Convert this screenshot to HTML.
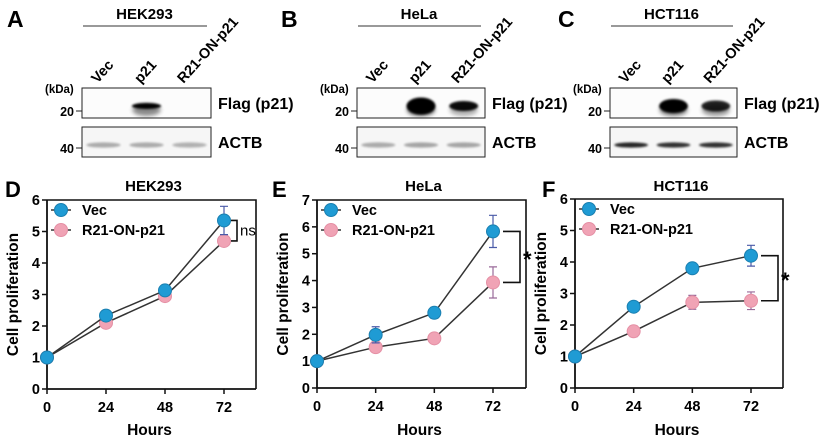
<!DOCTYPE html>
<html><head><meta charset="utf-8"><style>
html,body{margin:0;padding:0;background:#fff}
svg{display:block;font-family:"Liberation Sans",Arial,sans-serif;font-weight:bold}
</style></head><body>
<svg id="fig" width="823" height="438" viewBox="0 0 823 438">
<defs>
<filter id="b1" x="-50%" y="-100%" width="200%" height="300%"><feGaussianBlur stdDeviation="2"/></filter>
<filter id="b2" x="-50%" y="-100%" width="200%" height="300%"><feGaussianBlur stdDeviation="1.1"/></filter>
</defs>
<g id="blots"></g>
<g id="charts"></g>
</svg>
<script>
const NS="http://www.w3.org/2000/svg";
function mk(tag,attrs,parent,text){const e=document.createElementNS(NS,tag);for(const k in attrs)e.setAttribute(k,attrs[k]);if(text!==undefined)e.textContent=text;parent.appendChild(e);return e;}

/* ---------- Western blots ---------- */
const blotPanels=[
 {letter:"A",lx:7,cell:"HEK293",x0:82,x1:211,flag:[0,1.0,0],flagH:[0,3,0],smear:[0,0.45,0],actb:[0.3,0.3,0.28]},
 {letter:"B",lx:281,cell:"HeLa",x0:357,x1:485,flag:[0,1.0,0.95],flagH:[0,8.5,5],smear:[0,0.6,0.3],actb:[0.3,0.33,0.33]},
 {letter:"C",lx:558,cell:"HCT116",x0:610,x1:737,flag:[0,1.0,0.85],flagH:[0,7,5.5],smear:[0,0.5,0.4],actb:[0.85,0.8,0.8]}
];
const laneNames=["Vec","p21","R21-ON-p21"];
const blots=document.getElementById('blots');
blotPanels.forEach((p,i)=>{
 const g=mk('g',{},blots);
 
 
 const L=mk('text',{x:p.lx,y:27,'font-size':23},g,p.letter);
 
 
 const cx=(p.x0+p.x1)/2;
 const t=mk('text',{x:cx-2,y:19,'font-size':15,'text-anchor':'middle'},g,p.cell);
 
 
 mk('line',{x1:p.x0+1,x2:p.x1-4,y1:26,y2:26,stroke:'#333','stroke-width':1},g);
 const w=(p.x1-p.x0)/3;
 laneNames.forEach((n,j)=>{
  const lx=p.x0+w*(j+0.5)-6;
  const tt=mk('text',{x:lx,y:84,'font-size':14.5,transform:`rotate(-48 ${lx} 84)`},g,n);
  
  
 });
 mk('text',{x:p.x0-37,y:93,'font-size':11.5},g,'(kDa)');
 mk('text',{x:p.x0-8,y:116,'font-size':12.5,'text-anchor':'end'},g,'20');
 mk('line',{x1:p.x0-6,x2:p.x0,y1:111,y2:111,stroke:'#222'},g);
 mk('text',{x:p.x0-8,y:153,'font-size':12.5,'text-anchor':'end'},g,'40');
 mk('line',{x1:p.x0-6,x2:p.x0,y1:148,y2:148,stroke:'#222'},g);
 mk('rect',{x:p.x0,y:88,width:p.x1-p.x0,height:30,fill:'#fcfcfc'},g);
 p.flag.forEach((v,j)=>{
  if(v<0.02)return;
  const bx=p.x0+w*(j+0.5);
  mk('ellipse',{cx:bx,cy:110,rx:w*0.33,ry:6,fill:'#000',opacity:p.smear[j],filter:'url(#b1)'},g);
  mk('ellipse',{cx:bx,cy:106,rx:w*0.34,ry:p.flagH[j],fill:'#000',opacity:v,filter:'url(#b2)'},g);
 });
 const fb=mk('rect',{x:p.x0,y:88,width:p.x1-p.x0,height:30,fill:'none',stroke:'#222','stroke-width':1},g);
 
 
 mk('text',{x:p.x1+7,y:109,'font-size':16},g,'Flag (p21)');
 mk('rect',{x:p.x0,y:127,width:p.x1-p.x0,height:30,fill:'#f6f6f6'},g);
 p.actb.forEach((v,j)=>{
  const bx=p.x0+w*(j+0.5);
  mk('ellipse',{cx:bx,cy:145,rx:w*0.4,ry:2.6,fill:'#000',opacity:v,filter:'url(#b2)'},g);
 });
 const ab=mk('rect',{x:p.x0,y:127,width:p.x1-p.x0,height:30,fill:'none',stroke:'#222','stroke-width':1},g);
 
 
 mk('text',{x:p.x1+7,y:148,'font-size':16},g,'ACTB');
});

/* ---------- Growth curves ---------- */
const hours=[0,24,48,72];
const xTickLabels=["0","24","48","72"];
const vecD=[1,2.33,3.13,5.35];
const vecDerr=[0,0.08,0.08,0.45];
const r21D=[1,2.1,2.95,4.7];
const r21Derr=[0,0.08,0.08,0.15];
const vecE=[1,1.98,2.8,5.83];
const vecEerr=[0,0.3,0.2,0.6];
const r21E=[1,1.52,1.85,3.93];
const r21Eerr=[0,0.15,0.15,0.58];
const vecF=[1,2.58,3.8,4.2];
const vecFerr=[0,0.08,0.08,0.33];
const r21F=[1,1.8,2.72,2.77];
const r21Ferr=[0,0.17,0.22,0.28];
const yMaxD=6,yMaxE=7,yMaxF=6;
const sigD="ns",sigE="*",sigF="*";

const charts=[
 {letter:"D",title:"HEK293",lx:5,left:47,x72:224,right:256,top:200,bottom:389,ymax:yMaxD,vec:vecD,ve:vecDerr,r21:r21D,re:r21Derr,sig:sigD},
 {letter:"E",title:"HeLa",lx:272,left:317,x72:493,right:526,top:200,bottom:388,ymax:yMaxE,vec:vecE,ve:vecEerr,r21:r21E,re:r21Eerr,sig:sigE},
 {letter:"F",title:"HCT116",lx:542,left:575,x72:751,right:783,top:199,bottom:388,ymax:yMaxF,vec:vecF,ve:vecFerr,r21:r21F,re:r21Ferr,sig:sigF}
];
const cg=document.getElementById('charts');
const BLUE='#1f9bd4',PINK='#f0a3b5',EB='#4a5aa8',EP='#9a6a9a';
charts.forEach(c=>{
 const g=mk('g',{},cg);
 
 
 const xs=h=>c.left+(c.x72-c.left)*h/72;
 const ys=v=>c.bottom-(c.bottom-c.top)*v/c.ymax;
 const L=mk('text',{x:c.lx,y:197,'font-size':22},g,c.letter);
 
 
 const T=mk('text',{x:(c.left+c.right)/2+2,y:191,'font-size':15,'text-anchor':'middle'},g,c.title);
 
 
 mk('path',{d:`M${c.left} ${c.top}H${c.right}V${c.bottom}`,fill:'none',stroke:'#111','stroke-width':1.6},g);
 const ya=mk('line',{x1:c.left,x2:c.left,y1:c.top,y2:c.bottom,stroke:'#111','stroke-width':1.8},g);
 
 
 const xa=mk('line',{x1:c.left,x2:c.right,y1:c.bottom,y2:c.bottom,stroke:'#111','stroke-width':1.8},g);
 
 
 for(let v=0;v<=c.ymax;v++){
  mk('line',{x1:c.left-5,x2:c.left,y1:ys(v),y2:ys(v),stroke:'#111','stroke-width':1.5},g);
  const tl=mk('text',{x:c.left-7,y:ys(v)+5,'font-size':14.5,'text-anchor':'end'},g,String(v));
  
  
 }
 hours.forEach((h,i)=>{
  mk('line',{x1:xs(h),x2:xs(h),y1:c.bottom,y2:c.bottom+5,stroke:'#111','stroke-width':1.5},g);
  const tl=mk('text',{x:xs(h),y:c.bottom+23,'font-size':14.5,'text-anchor':'middle'},g,xTickLabels[i]);
  
  
 });
 const xt=mk('text',{x:(c.left+c.right)/2-2,y:435,'font-size':15.5,'text-anchor':'middle'},g,'Hours');
 
 
 const ytx=c.left-29,yty=(c.top+c.bottom)/2;
 const yt=mk('text',{x:ytx,y:yty,'font-size':15.5,'text-anchor':'middle',transform:`rotate(-90 ${ytx} ${yty})`},g,'Cell proliferation');
 
 
 [[c.r21,c.re,PINK,EP,'r21-on-p21'],[c.vec,c.ve,BLUE,EB,'vec']].forEach(([vals,errs,col,ecol,nm])=>{
  const pts=vals.map((v,i)=>xs(hours[i])+','+ys(v)).join(' ');
  const pl=mk('polyline',{points:pts,fill:'none',stroke:'#333','stroke-width':1.5},g);
  
  
  vals.forEach((v,i)=>{
   const x=xs(hours[i]);
   if(errs[i]>0){
    mk('path',{d:`M${x} ${ys(v+errs[i])}V${ys(v-errs[i])}M${x-4} ${ys(v+errs[i])}H${x+4}M${x-4} ${ys(v-errs[i])}H${x+4}`,stroke:ecol,'stroke-width':1.2,fill:'none'},g);
   }
   const pt=mk('circle',{cx:x,cy:ys(v),r:6.5,fill:col,stroke:nm==='vec'?'#1a7fb0':'#e590a5','stroke-width':1},g);
   
   
  });
 });
 const last=3;
 const ya1=ys(c.vec[last]),ya2=ys(c.r21[last]);
 const off=c.letter==='D'?7:10;
 const bx=xs(72)+(c.letter==='D'?13:27);
 mk('path',{d:`M${xs(72)+off} ${ya1}H${bx}V${ya2}H${xs(72)+off}`,fill:'none',stroke:'#111','stroke-width':1.6},g);
 const st=mk('text',{x:bx+3,y:(ya1+ya2)/2+(c.sig==='*'?10:5),'font-size':c.sig==='*'?22:15,'font-weight':c.sig==='*'?'bold':'normal'},g,c.sig);
 
 
 const lgx=c.left+12,lgy=c.top+10;
 [['Vec',BLUE,'#1a7fb0'],['R21-ON-p21',PINK,'#e590a5']].forEach(([n,col,sc],k)=>{
  const y=lgy+k*20;
  const lg=mk('g',{},g);
  
  
  mk('line',{x1:lgx-8,x2:lgx+12,y1:y,y2:y,stroke:'#333','stroke-width':1.5},lg);
  mk('circle',{cx:lgx+2,cy:y,r:6.5,fill:col,stroke:sc},lg);
  mk('text',{x:lgx+23,y:y+5,'font-size':14.5},lg,n);
 });
});
</script>
</body></html>
